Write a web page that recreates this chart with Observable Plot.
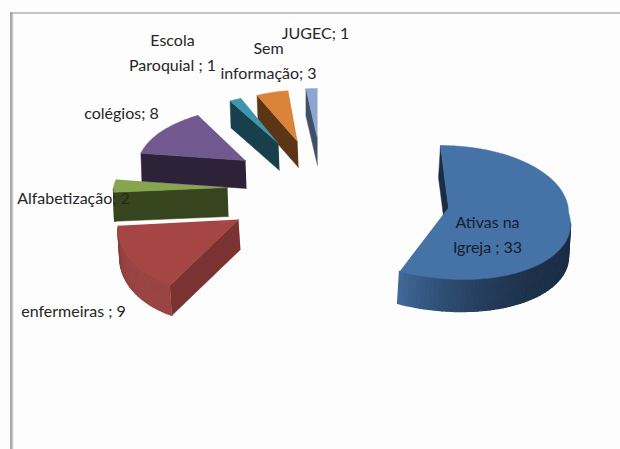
<!DOCTYPE html>
<html>
<head>
<meta charset="utf-8">
<script src="https://cdn.jsdelivr.net/npm/d3@7"></script>
<script src="https://cdn.jsdelivr.net/npm/@observablehq/plot@0.6"></script>
<style>
html,body{margin:0;padding:0;background:#fdfdfd;}
svg{display:block;}
</style>
</head>
<body>
<div id="chart"></div>
<script>
// Data
const categories = ["Ativas na Igreja", "enfermeiras", "Alfabetização", "colégios", "Escola Paroquial", "Sem informação", "JUGEC"];
const values = [33, 9, 2, 8, 1, 3, 1];

// Slice styling
const topColors = ["#4572a7", "#a54644", "#87a44f", "#71588f", "#3d96ae", "#da8439", "#8ca6d0"];
const sideColors = ["#1b2d46", "#7a3331", "#37451f", "#2d2238", "#1a3f4c", "#5c3416", "#3f4f66"];
const arcLight = ["#3f6898", "#8a3d3b", "#37451f", "#2d2238", "#1a3f4c", "#5c3416", "#3f4f66"];
const arcDark = ["#1b2d46", "#9a4543", "#37451f", "#2d2238", "#1a3f4c", "#5c3416", "#3f4f66"];

// Exploded-slice layout: where each slice's point sits and how its ellipse is foreshortened
const apexX = [448, 238, 227, 245, 278, 297, 317];
const apexY = [207, 219, 187, 160, 143, 141, 138];
const centreDX = [-8, 0, 0, 0, 0, 0, 0];
const centreDY = [5, 0, 0, 0, 0, 0, 0];
const radiusX = [128, 120, 114, 107, 108, 98, 105];
const radiusY = [67, 75, 58, 53, 50, 51, 50];
const shearUp = [0, 0, -0.19, -0.19, -0.19, -0.03, 0];
const shearDown = [0.34, -0.175, 0, 0, 0, 0, 0];
const depthX = [-2, 2, 1, 1, 1, 1, 0];
const depth = [32, 30, 29, 28, 27, 26, 27];
const drawOrder = [6, 5, 4, 2, 3, 1, 0];

// Labels
const labelTexts = ["Ativas na\nIgreja ; 33", "enfermeiras ; 9", "Alfabetização; 2", "colégios; 8", "Escola\nParoquial ; 1", "Sem\ninformação; 3", "JUGEC; 1"];
const labelX = [487, 73, 73, 121, 172, 268, 315];
const labelY = [232, 308, 195, 110, 50, 58, 30];

const arcs = d3.pie().sort(null).startAngle(0).endAngle(2 * Math.PI)(values);

function slicePolygon(i) {
  const a0 = arcs[i].startAngle, a1 = arcs[i].endAngle;
  const n = Math.max(2, Math.ceil((a1 - a0) / (Math.PI / 90)));
  const pts = [];
  const cx = apexX[i] + centreDX[i], cy = apexY[i] + centreDY[i];
  for (let k = 0; k <= n; k++) {
    const a = a0 + (a1 - a0) * k / n;
    const dy = -Math.cos(a) * radiusY[i];
    const s = dy > 0 ? shearDown[i] : shearUp[i];
    pts.push({x: cx + Math.sin(a) * radiusX[i] + s * dy, y: cy + dy});
  }
  return pts;
}

const faces = [];
for (const i of drawOrder) {
  const apex = {x: apexX[i], y: apexY[i]};
  const arc = slicePolygon(i);
  const quad = (p, q, color, w = 0.5) => {
    faces.push({color, w, pts: [p, q, {x: q.x + depthX[i], y: q.y + depth[i]}, {x: p.x + depthX[i], y: p.y + depth[i]}]});
  };
  // Walls that face the viewer are those walked leftwards on screen
  if (arc[0].x < apex.x) quad(apex, arc[0], sideColors[i]);
  const last = arc[arc.length - 1];
  if (apex.x < last.x) quad(last, apex, sideColors[i]);
  const shade = d3.interpolateRgb(arcDark[i], arcLight[i]);
  const visible = d3.range(arc.length - 1).filter(k => arc[k + 1].x < arc[k].x);
  visible.forEach((k, j) => {
    const t = visible.length > 1 ? j / (visible.length - 1) : 0;
    quad(arc[k], arc[k + 1], shade(t * t * t), 1.4);
  });
  faces.push({color: topColors[i], w: 0.5, pts: [apex, ...arc]});
}

const labels = labelTexts.map((text, i) => ({text, x: labelX[i], y: labelY[i], dark: i === 0}));

const plot = Plot.plot({
  width: 620,
  height: 449,
  margin: 0,
  style: {background: "#fdfdfd", overflow: "hidden"},
  x: {domain: [0, 620], range: [0, 620], axis: null},
  y: {domain: [0, 449], range: [0, 449], axis: null},
  marks: [
    Plot.ruleX([10.5], {y1: 12.5, y2: 449, stroke: "#8a8a8a", strokeWidth: 1.5}),
    Plot.ruleX([12], {y1: 13.5, y2: 449, stroke: "#c8c8c8", strokeWidth: 1.5}),
    Plot.ruleY([12.5], {x1: 10, x2: 620, stroke: "#8a8a8a", strokeWidth: 1.2}),
    ...faces.map(f => Plot.line(f.pts, {x: "x", y: "y", fill: f.color, stroke: f.color, strokeWidth: f.w, curve: "linear"})),
    Plot.text(labels, {
      x: "x", y: "y", text: "text",
      fontFamily: "Lato, 'Open Sans', sans-serif",
      fontSize: 16,
      lineHeight: 1.56,
      fill: d => d.dark ? "#14202e" : "#262626"
    })
  ]
});
document.getElementById("chart").appendChild(plot);
</script>
</body>
</html>
